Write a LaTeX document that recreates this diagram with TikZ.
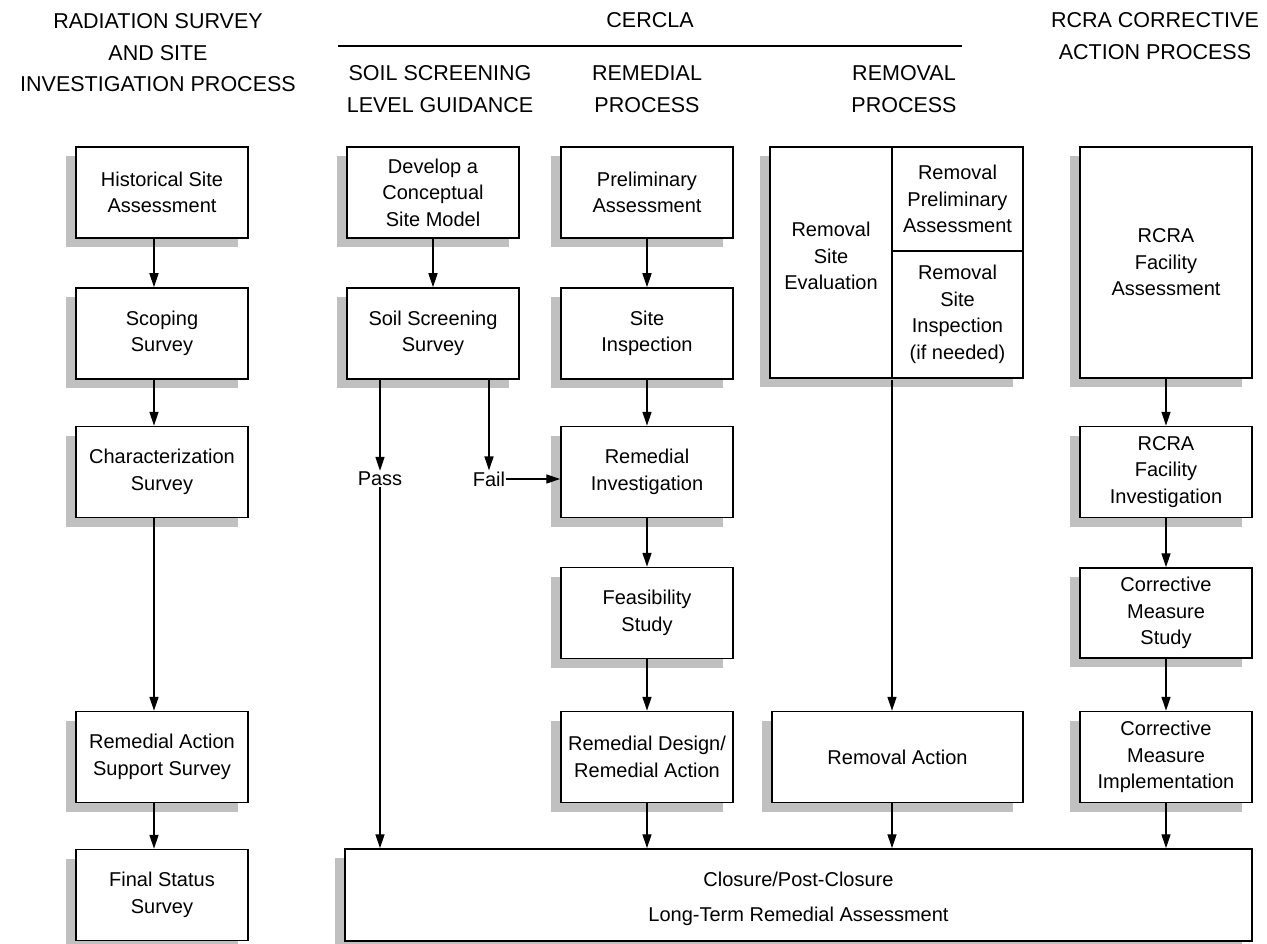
\documentclass[tikz,border=0pt]{standalone}
\usepackage{fontspec}
\setmainfont{Liberation Sans}
\usetikzlibrary{shadows,arrows.meta}
\definecolor{shadowgray}{RGB}{192,192,192}
\tikzset{
  x=1pt,y=-1pt,
  box/.style={draw,line width=1.5pt,fill=white,minimum width=172pt,minimum height=91pt,
    inner sep=2pt,align=center,font=\fontsize{20}{26.5}\selectfont,
    drop shadow={shadow xshift=-10pt,shadow yshift=-9pt,fill=shadowgray,opacity=1}},
  cell/.style={draw,line width=1.5pt,fill=white,inner sep=0pt,align=center,font=\fontsize{20}{26.5}\selectfont},
  plain/.style={inner sep=1pt,align=center,font=\fontsize{20}{26.5}\selectfont},
  head/.style={inner sep=0pt,align=center,font=\fontsize{21.5}{31.5}\selectfont},
  arr/.style={line width=1.4pt,-{Triangle[length=14pt,width=9pt]}},
  ln/.style={line width=1.4pt}
}
\begin{document}
\begin{tikzpicture}
\useasboundingbox (0,0) rectangle (1267,944);
% headers
\node[head] (h1) at (158,53) {RADIATION SURVEY\\AND SITE\\INVESTIGATION PROCESS};
\node[head] (h2) at (650,20) {CERCLA};
\coordinate (cl) at (338,46);
\coordinate (cr) at (962,46);
\draw[ln] (cl) -- (cr);
\node[head] (h3) at (440,89) {SOIL SCREENING\\LEVEL GUIDANCE};
\node[head] (h4) at (647,89) {REMEDIAL\\PROCESS};
\node[head] (h5) at (904,89) {REMOVAL\\PROCESS};
\node[head] (h6) at (1155,36) {RCRA CORRECTIVE\\ACTION PROCESS};

% column 1
\node[box] (hsa) at (162,192.5) {Historical Site\\Assessment};
\node[box] (scs) at (162,333.5) {Scoping\\Survey};
\node[box] (chs) at (162,472) {Characterization\\Survey};
\node[box] (ras) at (162,757) {Remedial Action\\Support Survey};
\node[box] (fss) at (162,895) {Final Status\\Survey};

% column 2
\node[box] (csm) at (433,192.5) {Develop a\\Conceptual\\Site Model};
\node[box] (sss) at (433,333.5) {Soil Screening\\Survey};
\node[plain] (pass) at (380,479) {Pass};
\node[plain] (fail) at (489,479) {Fail};

% column 3
\node[box] (pa) at (647,192.5) {Preliminary\\Assessment};
\node[box] (si) at (647,333.5) {Site\\Inspection};
\node[box] (ri) at (647,472) {Remedial\\Investigation};
\node[box] (fs) at (647,613) {Feasibility\\Study};
\node[box] (rd) at (647,757) {Remedial Design/\\Remedial Action};

% column 4 (removal)
\node[box,minimum width=253pt,minimum height=231pt] (rem) at (896.5,262.5) {};
\node[cell,minimum width=122pt,minimum height=231pt] (rse) at (831,262.5) {};
\node[plain] (rset) at (831,256) {Removal\\Site\\Evaluation};
\node[cell,minimum width=131pt,minimum height=104pt] (rpa) at (957.5,199) {Removal\\Preliminary\\Assessment};
\node[cell,minimum width=131pt,minimum height=127pt] (rsi) at (957.5,314.5) {Removal\\Site\\Inspection\\(if needed)};
\node[box,minimum width=251pt] (ract) at (897.5,757) {Removal Action};

% column 5 (RCRA)
\node[box,minimum height=231pt] (rfa) at (1166,262.5) {RCRA\\Facility\\Assessment};
\node[box] (rfi) at (1166,472) {RCRA\\Facility\\Investigation};
\node[box,minimum height=90pt] (cms) at (1166,613) {Corrective\\Measure\\Study};
\node[box] (cmi) at (1166,757) {Corrective\\Measure\\Implementation};

% closure
\node[box,minimum width=907pt,minimum height=92pt] (clo) at (798.5,895) {\rule{0pt}{22pt}Closure/Post-Closure\\[9pt]Long-Term Remedial Assessment};

% connectors column 1
\draw[arr] ([xshift=-8pt]hsa.south) -- ([xshift=-8pt]scs.north);
\draw[arr] ([xshift=-8pt]scs.south) -- ([xshift=-8pt]chs.north);
\draw[arr] ([xshift=-8pt]chs.south) -- ([xshift=-8pt]ras.north);
\draw[arr] ([xshift=-8pt]ras.south) -- ([xshift=-8pt]fss.north);

% column 2
\draw[arr] (csm.south) -- (sss.north);
\draw[arr] (sss.south -| pass) -- (pass.north);
\draw[arr] (sss.south -| fail) -- (fail.north);
\draw[arr] (pass.south) -- (pass.south |- clo.north);
\draw[arr] (fail.east) -- (fail.east -| ri.west);

% column 3
\draw[arr] (pa.south) -- (si.north);
\draw[arr] (si.south) -- (ri.north);
\draw[arr] (ri.south) -- (fs.north);
\draw[arr] (fs.south) -- (rd.north);
\draw[arr] (rd.south) -- (rd.south |- clo.north);

% column 4
\coordinate (rsisw) at ([xshift=0.75pt,yshift=-0.75pt]rsi.south west);
\draw[arr] (rsisw) -- (rsisw |- ract.north);
\draw[arr] ([xshift=-5.5pt]ract.south) -- ([xshift=-5.5pt]ract.south |- clo.north);

% column 5
\draw[arr] (rfa.south) -- (rfi.north);
\draw[arr] (rfi.south) -- (cms.north);
\draw[arr] (cms.south) -- (cmi.north);
\draw[arr] (cmi.south) -- (cmi.south |- clo.north);
\end{tikzpicture}
\end{document}
